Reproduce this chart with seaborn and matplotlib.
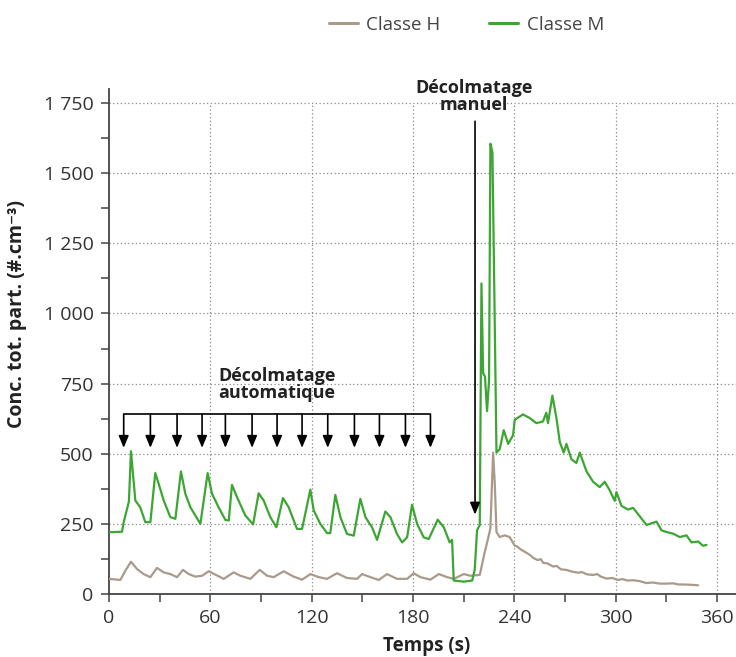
import matplotlib
matplotlib.use("Agg")
import matplotlib.pyplot as plt
from matplotlib.lines import Line2D
from matplotlib.ticker import MultipleLocator, FuncFormatter
import numpy as np
import pandas as pd
import seaborn as sns

# ---------------- data ----------------
series_names = ["Classe H", "Classe M"]

time_m = [0, 7.7, 8.7, 11.8, 13.0, 15.6, 18.5, 21.5, 24.5, 27.4,
          29.4, 32.4, 36.3, 39.3, 42.6, 45.2, 48.2, 51.1, 54.1, 58.4,
          61.0, 64.9, 68.9, 70.9, 72.8, 75.8, 80.7, 85.3, 88.6, 91.6,
          95.5, 99.1, 103.0, 106.4, 111.3, 114.3, 119.2, 121.2, 125.1, 129.1,
          131.0, 134.0, 137.0, 140.9, 144.9, 148.8, 151.8, 155.7, 158.7, 163.6,
          166.6, 170.5, 173.5, 176.5, 179.4, 182.4, 186.3, 189.3, 194.6, 198.2,
          201.7, 203.1, 204.1, 210.0, 215.0, 216.5, 217.9, 219.5, 220.5, 221.5,
          222.6, 223.8, 225.0, 225.8, 227.0, 228.0, 229.4, 231.3, 233.7, 236.3,
          239.2, 240.2, 245.1, 249.1, 253.0, 256.9, 258.9, 259.9, 262.5, 264.9,
          266.9, 269.2, 270.8, 273.8, 276.7, 278.7, 282.7, 286.6, 290.5, 293.5,
          296.5, 299.4, 300.4, 303.4, 307.3, 310.3, 314.2, 318.2, 321.1, 324.1,
          327.1, 330.0, 334.0, 337.9, 341.9, 344.8, 348.8, 351.7, 353.7]
conc_m = [220, 222, 256, 330, 509, 333, 309, 256, 256, 431,
          393, 333, 274, 268, 437, 357, 309, 280, 250, 431,
          357, 309, 264, 262, 389, 345, 280, 248, 359, 333,
          274, 238, 342, 309, 232, 232, 372, 298, 250, 217,
          217, 353, 274, 214, 208, 339, 274, 238, 193, 294,
          274, 214, 184, 202, 318, 250, 202, 196, 265, 238,
          184, 193, 48, 44, 48, 86, 227, 246, 1107, 787,
          775, 652, 762, 1605, 1574, 1131, 504, 516, 584, 535,
          566, 621, 640, 627, 609, 615, 646, 609, 707, 627,
          541, 504, 535, 480, 467, 504, 437, 400, 381, 400,
          369, 332, 363, 314, 301, 307, 277, 246, 252, 258,
          227, 221, 215, 203, 209, 184, 187, 172, 175]

time_h = [0, 6.7, 9.7, 13.0, 16.6, 20.5, 24.5, 28.4, 32.4, 36.3,
          40.3, 43.8, 47.2, 51.1, 55.1, 59.0, 63.0, 67.9, 73.8, 77.8,
          83.7, 89.2, 93.6, 97.5, 103.4, 109.3, 114.3, 119.2, 124.2, 129.1,
          135.0, 140.9, 146.9, 149.8, 154.8, 159.7, 164.6, 170.5, 176.5, 180.4,
          184.4, 190.3, 195.2, 200.2, 204.1, 210.0, 214.0, 219.5, 222.4, 224.4,
          225.8, 227.4, 228.4, 229.4, 231.3, 234.3, 237.2, 240.2, 241.8, 243.5,
          245.1, 247.7, 249.5, 251.1, 253.7, 255.7, 257.0, 259.6, 262.9, 265.0,
          267.5, 270.8, 274.0, 277.4, 280.0, 283.0, 286.6, 289.0, 291.2, 294.5,
          298.0, 301.1, 304.0, 307.0, 310.3, 314.0, 318.2, 322.0, 326.0, 330.0,
          334.0, 337.0, 339.9, 344.0, 348.8]
conc_h = [54, 50, 83, 115, 89, 71, 60, 93, 77, 71,
          60, 86, 71, 62, 65, 81, 69, 54, 77, 65,
          54, 86, 65, 60, 81, 62, 51, 71, 60, 54,
          74, 57, 54, 71, 60, 50, 71, 54, 54, 74,
          60, 51, 71, 60, 54, 71, 65, 68, 148, 197,
          234, 504, 393, 221, 203, 209, 203, 172, 169, 160,
          154, 145, 138, 129, 121, 124, 111, 109, 98, 100,
          88, 86, 80, 76, 78, 70, 68, 71, 62, 55,
          57, 50, 53, 48, 49, 46, 39, 41, 37, 37,
          38, 34, 34, 33, 31]

auto_times = [8.7, 24.5, 40.3, 55.1, 68.9, 84.7, 99.5, 114.3, 129.5,
              145.3, 160.1, 175.5, 190.3]
manual_time = 216.7

x_ticks = [0, 60, 120, 180, 240, 300, 360]
y_ticks = [0, 250, 500, 750, 1000, 1250, 1500, 1750]

colors = {"Classe H": "#a99a8b", "Classe M": "#3ca633"}

# ---------------- figure ----------------
sns.set_style("ticks")
plt.rcParams["font.family"] = ["Open Sans", "DejaVu Sans"]

W, H = 736, 657
fig = plt.figure(figsize=(W / 100, H / 100), dpi=100)
ax = fig.add_axes([109 / W, 1 - 594 / H, 627 / W, (594 - 89) / H])

XMAX = 371.2
YMAX = 1800

df = pd.concat([
    pd.DataFrame({"t": time_h, "v": conc_h, "Classe": "Classe H"}),
    pd.DataFrame({"t": time_m, "v": conc_m, "Classe": "Classe M"}),
], ignore_index=True)

sns.lineplot(data=df, x="t", y="v", hue="Classe", hue_order=series_names,
             palette=colors, linewidth=1.6, sort=False, estimator=None,
             legend=False, ax=ax, zorder=3)

ax.set_xlim(0, XMAX)
ax.set_ylim(0, YMAX)

# dotted grid
gcol = "#8a8a8a"
for x in x_ticks[1:]:
    ax.vlines(x, 0, 1750, colors=gcol, linestyles=(0, (1, 2)), linewidth=0.9, zorder=1)
for y in y_ticks[1:]:
    ax.hlines(y, 0, XMAX, colors=gcol, linestyles=(0, (1, 2)), linewidth=0.9, zorder=1)

# spines / ticks
for s in ["top", "right"]:
    ax.spines[s].set_visible(False)
for s in ["left", "bottom"]:
    ax.spines[s].set_color("#444444")
    ax.spines[s].set_linewidth(1.3)

ax.set_xticks(x_ticks)
ax.set_yticks(y_ticks)
ax.xaxis.set_minor_locator(MultipleLocator(30))
ax.yaxis.set_minor_locator(MultipleLocator(125))
ax.yaxis.set_major_formatter(FuncFormatter(lambda v, p: f"{int(v):,}".replace(",", " ")))
ax.tick_params(which="both", direction="out", length=6, width=1.1, color="#444444")
ax.tick_params(which="major", labelsize=14, labelcolor="#333333", pad=5)

ax.set_xlabel("Temps (s)", fontsize=13.5, fontweight="bold", color="#222222")
ax.set_ylabel("Conc. tot. part. (#.cm\u207b\u00b3)", fontsize=14, fontweight="bold", color="#222222")
ax.xaxis.set_label_coords(188 / XMAX, -0.083)
ax.yaxis.set_label_coords(-0.13, 998 / YMAX)

# automatic declogging arrows
arrow_style = "-|>,head_length=0.6,head_width=0.25"
ax.plot([auto_times[0], auto_times[-1]], [640, 640], color="black", lw=1.2, zorder=4)
for t in auto_times:
    ax.annotate("", xy=(t, 521), xytext=(t, 641),
                arrowprops=dict(arrowstyle=arrow_style, color="black", lw=1.2,
                                shrinkA=0, shrinkB=0, mutation_scale=12), zorder=4)
ax.text(99.5, 746, "Décolmatage\nautomatique", ha="center", va="center",
        fontsize=13, fontweight="bold", color="#222222", linespacing=0.9)

# manual declogging arrow
ax.annotate("", xy=(manual_time, 283), xytext=(manual_time, 1685),
            arrowprops=dict(arrowstyle=arrow_style, color="black", lw=1.2,
                            shrinkA=0, shrinkB=0, mutation_scale=12), zorder=4)
ax.text(216, 1774, "Décolmatage\nmanuel", ha="center", va="center",
        fontsize=13, fontweight="bold", color="#222222", linespacing=0.9,
        clip_on=False)

# legend
handles = [Line2D([0], [0], color=colors[n], lw=2.2) for n in series_names]
leg = fig.legend(handles, series_names, loc="center", bbox_to_anchor=(466.5 / W, 1 - 25 / H),
                 ncol=2, frameon=False, fontsize=13.5, handlelength=1.55,
                 columnspacing=2.6, handletextpad=0.45)
for txt in leg.get_texts():
    txt.set_color("#444444")

fig.savefig("out.png", dpi=100)
